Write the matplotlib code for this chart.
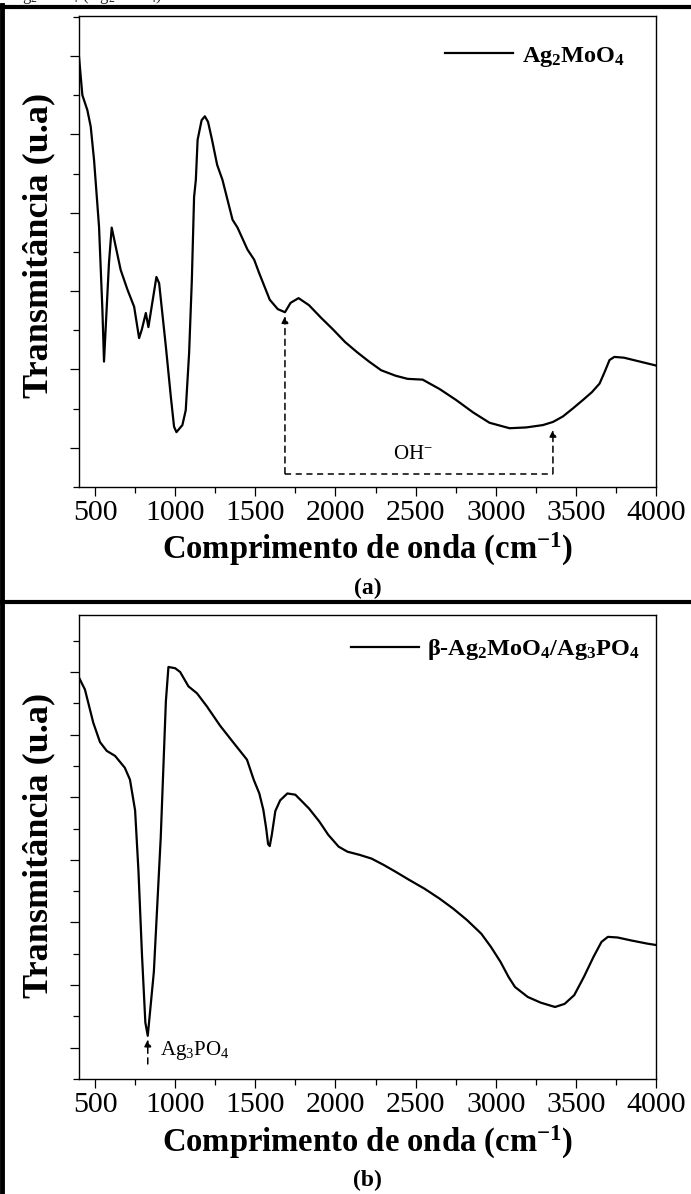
import numpy as np
import matplotlib.pyplot as plt
from matplotlib.lines import Line2D
from matplotlib.ticker import MultipleLocator

plt.rcParams['font.family'] = ['Liberation Serif', 'DejaVu Serif']
plt.rcParams['mathtext.default'] = 'regular'

W, H = 691, 1194
DPI = 100

# FTIR spectrum of Ag2MoO4 (panel a)
wn_a = [400, 421, 452, 473, 494, 525, 546, 556, 567, 587, 604, 660, 702, 744, 775,
        792, 817, 833, 883, 900, 942, 973, 993, 1008, 1045, 1066, 1087, 1104, 1118,
        1129, 1140, 1165, 1185, 1205, 1230, 1262, 1295, 1358, 1389, 1451, 1493,
        1524, 1590, 1640, 1685, 1720, 1770, 1835, 1910, 1985, 2060, 2135, 2210,
        2285, 2375, 2450, 2544, 2650, 2753, 2860, 2961, 3086, 3190, 3294, 3357,
        3419, 3480, 3544, 3600, 3648, 3680, 3710, 3740, 3800, 3900, 4000]
tr_a = [4.99, 4.50, 4.31, 4.10, 3.67, 2.82, 1.76, 1.10, 1.55, 2.36, 2.81, 2.27, 2.02,
        1.80, 1.40, 1.51, 1.72, 1.54, 2.18, 2.10, 1.29, 0.65, 0.27, 0.20, 0.29, 0.48,
        1.21, 2.14, 3.20, 3.42, 3.93, 4.18, 4.23, 4.16, 3.93, 3.61, 3.42, 2.91, 2.81,
        2.53, 2.40, 2.23, 1.89, 1.77, 1.73, 1.85, 1.91, 1.82, 1.66, 1.51, 1.35, 1.22,
        1.10, 0.99, 0.92, 0.88, 0.87, 0.75, 0.61, 0.45, 0.32, 0.25, 0.26, 0.29, 0.33,
        0.40, 0.50, 0.61, 0.71, 0.82, 0.97, 1.12, 1.16, 1.15, 1.10, 1.05]

# FTIR spectrum of beta-Ag2MoO4/Ag3PO4 (panel b)
wn_b = [400, 437, 489, 531, 573, 625, 686, 718, 750, 771, 793, 814, 829, 867, 910,
        942, 958, 1000, 1031, 1083, 1136, 1198, 1281, 1364, 1448, 1490, 1525, 1550,
        1568, 1580, 1590, 1603, 1625, 1655, 1700, 1750, 1835, 1900, 1955, 2020, 2075,
        2150, 2225, 2300, 2375, 2460, 2555, 2650, 2735, 2820, 2910, 2970, 3030, 3080,
        3120, 3200, 3280, 3370, 3430, 3490, 3550, 3610, 3660, 3700, 3760, 3850, 3950,
        4000]
tr_b = [5.91, 5.72, 5.19, 4.88, 4.74, 4.66, 4.47, 4.28, 3.79, 2.82, 1.48, 0.40, 0.19,
        1.21, 3.36, 5.53, 6.08, 6.06, 6.00, 5.77, 5.66, 5.45, 5.14, 4.87, 4.60, 4.28,
        4.06, 3.80, 3.50, 3.25, 3.22, 3.40, 3.78, 3.95, 4.06, 4.04, 3.82, 3.61, 3.40,
        3.21, 3.13, 3.08, 3.02, 2.92, 2.81, 2.68, 2.54, 2.38, 2.22, 2.04, 1.82, 1.61,
        1.37, 1.13, 0.97, 0.81, 0.72, 0.65, 0.70, 0.84, 1.13, 1.45, 1.69, 1.77, 1.76,
        1.71, 1.66, 1.64]

xticks = [500, 1000, 1500, 2000, 2500, 3000, 3500, 4000]

AX_L, AX_R = 79, 656


def fx(px):
    return px / W


def fy(py):
    return 1 - py / H


def style_axes(ax, ylim):
    ax.set_xlim(400, 4000)
    ax.set_ylim(*ylim)
    ax.set_xticks(xticks)
    ax.xaxis.set_minor_locator(MultipleLocator(250))
    ax.yaxis.set_major_locator(MultipleLocator(1))
    ax.yaxis.set_minor_locator(MultipleLocator(0.5))
    ax.set_yticklabels([])
    ax.tick_params(which='both', direction='out', top=False, right=False, width=0.9)
    ax.tick_params(which='major', length=6.5, labelsize=21.5, pad=3)
    ax.tick_params(which='minor', length=4)
    for s in ax.spines.values():
        s.set_linewidth(1)


def dashed_arrow(ax, x, y0, y1):
    ax.annotate('', xy=(x, y1), xytext=(x, y0),
                arrowprops=dict(arrowstyle='-|>', ls=(0, (4, 3)), lw=1.1,
                                color='black', mutation_scale=10,
                                shrinkA=0, shrinkB=0))


fig = plt.figure(figsize=(W / DPI, H / DPI), dpi=DPI)

# panel (a)
ax1 = fig.add_axes([fx(AX_L), fy(487), fx(AX_R - AX_L), 471 / H])
ax1.plot(wn_a, tr_a, color='black', lw=1.6, label=r'Ag$_2$MoO$_4$')
style_axes(ax1, (-0.5, 5.51))
ax1.legend(loc='center right', frameon=False, handlelength=2.8, handletextpad=0.35,
           borderpad=0, borderaxespad=0, prop={'weight': 'bold', 'size': 17.5},
           bbox_to_anchor=(0.946, 0.913))

# OH- band bracket
dashed_arrow(ax1, 1685, -0.33, 1.68)
dashed_arrow(ax1, 3357, -0.33, 0.23)
ax1.plot([1685, 3357], [-0.33, -0.33], color='black', lw=1.1, ls=(0, (4, 3)))
ax1.text(2484, -0.09, r'OH$^{-}$', ha='center', va='center', fontsize=15)

# panel (b)
ax2 = fig.add_axes([fx(AX_L), fy(1079), fx(AX_R - AX_L), 464 / H])
ax2.plot(wn_b, tr_b, color='black', lw=1.6,
         label=r'$\beta$-Ag$_2$MoO$_4$/Ag$_3$PO$_4$')
style_axes(ax2, (-0.5, 6.91))
ax2.legend(loc='center right', frameon=False, handlelength=2.8, handletextpad=0.35,
           borderpad=0, borderaxespad=0, prop={'weight': 'bold', 'size': 17.5},
           bbox_to_anchor=(0.972, 0.925))
dashed_arrow(ax2, 829, -0.26, 0.13)
ax2.text(905, -0.04, r'Ag$_3$PO$_4$', ha='left', va='center', fontsize=15)

# axis titles and panel letters
xc = (AX_L + AX_R) / 2
for yl, ylab, yt, tag in [(549, 245, 588, '(a)'), (1142, 845, 1180, '(b)')]:
    fig.text(fx(xc), fy(yl), r'Comprimento de onda (cm$^{-1}$)', ha='center',
             va='center', fontsize=23.5, fontweight='bold')
    fig.text(fx(39), fy(ylab), 'Transmitância (u.a)', ha='center', va='center',
             rotation=90, fontsize=26, fontweight='bold')
    fig.text(fx(xc), fy(yt), tag, ha='center', va='center', fontsize=17,
             fontweight='bold')

# outer frame of the figure
fig.add_artist(Line2D([fx(2), fx(2)], [0, fy(5)], color='black', lw=3.5))
fig.add_artist(Line2D([0, 1], [fy(6.5), fy(6.5)], color='black', lw=3))
fig.add_artist(Line2D([0, 1], [fy(602), fy(602)], color='black', lw=3))

# caption fragment above the frame
fig.text(fx(10), fy(-4), r'Ag$_2$MoO$_4$ (Ag$_2$MoO$_4$)', ha='left', va='center',
         fontsize=12, color='#222222')

fig.savefig('out.png', dpi=DPI, facecolor='white')
